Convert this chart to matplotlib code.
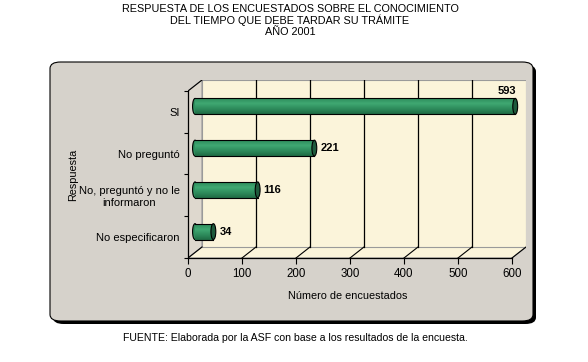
import matplotlib.pyplot as plt
import numpy as np
from matplotlib.patches import FancyBboxPatch, Polygon, Ellipse
from matplotlib.colors import LinearSegmentedColormap

plt.rcParams['font.family'] = ['Liberation Sans', 'DejaVu Sans']

# datos
categorias = ['No especificaron', 'No, preguntó y no le\ninformaron', 'No preguntó', 'SI']
valores = [34, 116, 221, 593]
ticks_x = [0, 100, 200, 300, 400, 500, 600]
titulo = ('RESPUESTA DE LOS ENCUESTADOS SOBRE EL CONOCIMIENTO\n'
          'DEL TIEMPO QUE DEBE TARDAR SU TRÁMITE\nAÑO 2001')
fuente = 'FUENTE: Elaborada por la ASF con base a los resultados de la encuesta.'

W, H = 588, 362
fig = plt.figure(figsize=(W / 100, H / 100), dpi=100)

# panel gris con sombra
sombra = FancyBboxPatch((53 / W, 1 - 324 / H), 483 / W, 259 / H,
                        boxstyle='round,pad=0,rounding_size=0.018',
                        transform=fig.transFigure, fc='black', ec='none', zorder=-3)
panel = FancyBboxPatch((50 / W, 1 - 321 / H), 483 / W, 259 / H,
                       boxstyle='round,pad=0,rounding_size=0.018',
                       transform=fig.transFigure, fc='#D6D2CB', ec='black', lw=0.8, zorder=-2)
fig.patches.extend([sombra, panel])

# ejes: frente 188..512 px, fondo hasta 526 px; abajo 258 px, arriba 80 px
ax = fig.add_axes([188 / W, 1 - 258 / H, (526 - 188) / W, (258 - 80) / H])
ax.patch.set_visible(False)
xmax = 600
dx = xmax * 14 / 324.0
dy = 4 * 11 / 167.0
y0, y1 = -0.5, len(categorias) - 0.5

pared = '#FBF4DA'
gris = '#9A9A9A'
# pared lateral
ax.add_patch(Polygon([(0, y0), (dx, y0 + dy), (dx, y1 + dy), (0, y1)],
                     closed=True, fc='#DED8CE', ec=gris, lw=0.8, zorder=1))
# piso
ax.add_patch(Polygon([(0, y0), (xmax, y0), (xmax + dx, y0 + dy), (dx, y0 + dy)],
                     closed=True, fc=pared, ec=gris, lw=0.8, zorder=1))
# pared del fondo
ax.add_patch(Polygon([(dx, y0 + dy), (xmax + dx, y0 + dy), (xmax + dx, y1 + dy), (dx, y1 + dy)],
                     closed=True, fc=pared, ec=gris, lw=0.8, zorder=1))
for t in ticks_x[1:-1]:
    ax.plot([t + dx, t + dx], [y0 + dy, y1 + dy], color='black', lw=0.9, zorder=2)
for t in ticks_x:
    ax.plot([t, t + dx], [y0, y0 + dy], color='black', lw=0.8, zorder=2)
ax.plot([0, dx], [y1, y1 + dy], color='black', lw=0.8, zorder=2)

# barras cilindricas
h = 0.38
verde = '#2F8F5E'
grad = np.linspace(0, 1, 64).reshape(-1, 1)
cmap = LinearSegmentedColormap.from_list('cil', ['#1F6B44', '#2E8C5C', '#3FA872', '#2E8C5C'])
yb = np.arange(len(categorias)) + dy / 2
for i, v in enumerate(valores):
    yc = yb[i]
    ax.add_patch(Ellipse((dx / 2, yc), 9, h, fc=verde, ec='black', lw=0.8, zorder=3))
    bar = ax.barh(yc, v, left=dx / 2, height=h, color=verde, edgecolor='none', zorder=4)[0]
    im = ax.imshow(grad, extent=(dx / 2, dx / 2 + v, yc - h / 2, yc + h / 2),
                   cmap=cmap, aspect='auto', zorder=4.5, origin='lower')
    im.set_clip_path(bar)
    ax.plot([dx / 2, dx / 2 + v], [yc + h / 2, yc + h / 2], color='black', lw=0.8, zorder=5)
    ax.plot([dx / 2, dx / 2 + v], [yc - h / 2, yc - h / 2], color='black', lw=0.8, zorder=5)
    ax.add_patch(Ellipse((dx / 2 + v, yc), 9, h, fc='#1E5A3C', ec='black', lw=0.8, zorder=6))
    if v + dx / 2 + 60 > xmax + dx:
        ax.text(v + dx / 2 + 2, yc + 0.37, str(v), ha='right', va='center',
                fontsize=8, fontweight='bold', zorder=7)
    else:
        ax.text(v + dx / 2 + 11, yc, str(v), ha='left', va='center',
                fontsize=8, fontweight='bold', zorder=7)

ax.set_xlim(0, xmax + dx)
ax.set_ylim(y0, y1 + dy)

for s in ['top', 'right']:
    ax.spines[s].set_visible(False)
ax.spines['left'].set_bounds(y0, y1)
ax.spines['bottom'].set_bounds(0, xmax)
ax.spines['left'].set_linewidth(0.9)
ax.spines['bottom'].set_linewidth(0.9)
ax.spines['left'].set_zorder(8)
ax.spines['bottom'].set_zorder(8)

ax.set_xticks(ticks_x)
ax.set_xticklabels([str(t) for t in ticks_x], fontsize=8.3)
ax.set_yticks(range(len(categorias)))
ax.set_yticklabels(categorias, fontsize=8)
for lb in ax.get_yticklabels():
    lb.set_multialignment('center')
ax.set_yticks(np.arange(y0, y1 + 0.01, 1), minor=True)
ax.tick_params(axis='y', which='major', length=0, pad=6)
ax.tick_params(axis='y', which='minor', length=3, width=0.8, direction='out')
ax.tick_params(axis='x', which='major', length=4, width=0.8, direction='out', pad=3)

fig.text(348 / W, 1 - 296 / H, 'Número de encuestados', ha='center', va='center', fontsize=7.8)
fig.text(73 / W, 1 - 175 / H, 'Respuesta', ha='center', va='center', rotation=90, fontsize=7.8)
fig.text(290 / W, 1 - 4 / H, titulo, ha='center', va='top', fontsize=7.8, linespacing=1.1)
fig.text(123 / W, 1 - 338 / H, fuente, ha='left', va='center', fontsize=7.6)

fig.savefig('out.png', dpi=100)
